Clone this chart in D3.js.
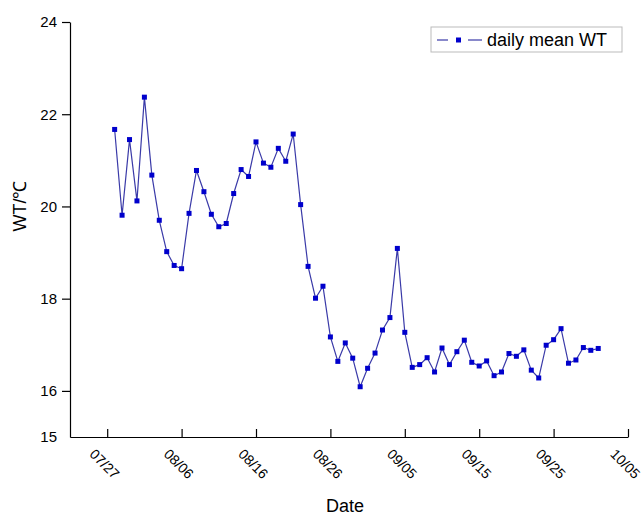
<!DOCTYPE html>
<html>
<head>
<meta charset="utf-8">
<script src="https://cdn.jsdelivr.net/npm/d3@7"></script>
<style>
  body { margin: 0; background: #fff; }
  text { font-family: "Liberation Sans", Arial, sans-serif; fill: #000; }
</style>
</head>
<body>
<div id="chart"></div>
<script>
// daily mean water temperature, first value is 07/28
var startDay = "2019-07-28";
var wtValues = [21.67, 19.81, 21.45, 20.12, 22.37, 20.68, 19.70, 19.02, 18.72, 18.65,
                19.85, 20.78, 20.32, 19.83, 19.56, 19.63, 20.28, 20.80, 20.65, 21.40,
                20.94, 20.85, 21.26, 20.98, 21.57, 20.04, 18.70, 18.01, 18.27, 17.17,
                16.64, 17.04, 16.71, 16.09, 16.49, 16.82, 17.32, 17.59, 19.09, 17.27,
                16.51, 16.57, 16.72, 16.41, 16.93, 16.57, 16.85, 17.10, 16.62, 16.54,
                16.65, 16.33, 16.41, 16.81, 16.75, 16.89, 16.45, 16.28, 16.99, 17.11,
                17.35, 16.60, 16.67, 16.94, 16.88, 16.92];
var xTickLabels = ["07/27", "08/06", "08/16", "08/26", "09/05", "09/15", "09/25", "10/05"];
var yTicks = [15, 16, 18, 20, 22, 24];
var xDomain = ["2019-07-22", "2019-10-05"];
var yDomain = [15, 24];

var width = 644, height = 515;
var margin = {top: 22, right: 16, bottom: 78, left: 70};

var parse = d3.timeParse("%Y-%m-%d");
var parseTick = d3.timeParse("%Y/%m/%d");
var data = wtValues.map(function (v, i) {
    return {date: d3.timeDay.offset(parse(startDay), i), value: v};
});
var tickDates = xTickLabels.map(function (s) { return parseTick("2019/" + s); });

var svg = d3.select("#chart").append("svg")
    .attr("width", width)
    .attr("height", height);

var x = d3.scaleTime()
    .domain(xDomain.map(parse))
    .range([margin.left, width - margin.right]);
var y = d3.scaleLinear()
    .domain(yDomain)
    .range([height - margin.bottom, margin.top]);

// X axis, ticks inside, labels rotated
var gx = svg.append("g")
    .attr("transform", "translate(0," + y(15) + ")")
    .call(d3.axisBottom(x).tickValues(tickDates).tickSize(-8).tickSizeOuter(0)
        .tickFormat(function (d, i) { return xTickLabels[i]; }));
gx.select(".domain").attr("stroke", "#000").attr("stroke-width", 1.2);
gx.selectAll(".tick line").attr("stroke", "#000").attr("stroke-width", 1.2);
gx.selectAll(".tick text")
    .attr("font-size", 14)
    .attr("text-anchor", "start")
    .attr("y", 0).attr("dy", 0)
    .attr("transform", "translate(-19,18) rotate(45)");

// Y axis, ticks outside
var gy = svg.append("g")
    .attr("transform", "translate(" + margin.left + ",0)")
    .call(d3.axisLeft(y).tickValues(yTicks).tickSize(8).tickSizeOuter(0).tickPadding(5));
gy.select(".domain").attr("stroke", "#000").attr("stroke-width", 1.2);
gy.selectAll(".tick line").attr("stroke", "#000").attr("stroke-width", 1.2)
    .attr("display", function (d) { return d === 15 ? "none" : null; });
gy.selectAll(".tick text").attr("font-size", 15);

// axis titles
svg.append("text")
    .attr("x", 345).attr("y", 512)
    .attr("text-anchor", "middle")
    .attr("font-size", 18)
    .text("Date");
svg.append("text")
    .attr("transform", "translate(26,206) rotate(-90)")
    .attr("text-anchor", "middle")
    .attr("font-size", 18)
    .text("WT/℃");

// line and square markers
var line = d3.line()
    .x(function (d) { return x(d.date); })
    .y(function (d) { return y(d.value); });
svg.append("path")
    .datum(data)
    .attr("fill", "none")
    .attr("stroke", "#3a3aa8")
    .attr("stroke-width", 1.2)
    .attr("d", line);
svg.selectAll(".pt")
    .data(data)
    .enter().append("rect")
    .attr("class", "pt")
    .attr("x", function (d) { return x(d.date) - 2.5; })
    .attr("y", function (d) { return y(d.value) - 2.5; })
    .attr("width", 5).attr("height", 5)
    .attr("fill", "#0000cc");

// legend
var lg = svg.append("g").attr("transform", "translate(431,27)");
lg.append("rect")
    .attr("width", 191).attr("height", 25)
    .attr("fill", "#fff").attr("stroke", "#bbb").attr("stroke-width", 1);
lg.append("line").attr("x1", 6).attr("x2", 17).attr("y1", 13).attr("y2", 13)
    .attr("stroke", "#3a3aa8").attr("stroke-width", 1.2);
lg.append("line").attr("x1", 37).attr("x2", 51).attr("y1", 13).attr("y2", 13)
    .attr("stroke", "#3a3aa8").attr("stroke-width", 1.2);
lg.append("rect").attr("x", 25).attr("y", 10.5).attr("width", 5).attr("height", 5)
    .attr("fill", "#0000cc");
lg.append("text")
    .attr("x", 56).attr("y", 19)
    .attr("font-size", 18)
    .text("daily mean WT");
</script>
</body>
</html>
